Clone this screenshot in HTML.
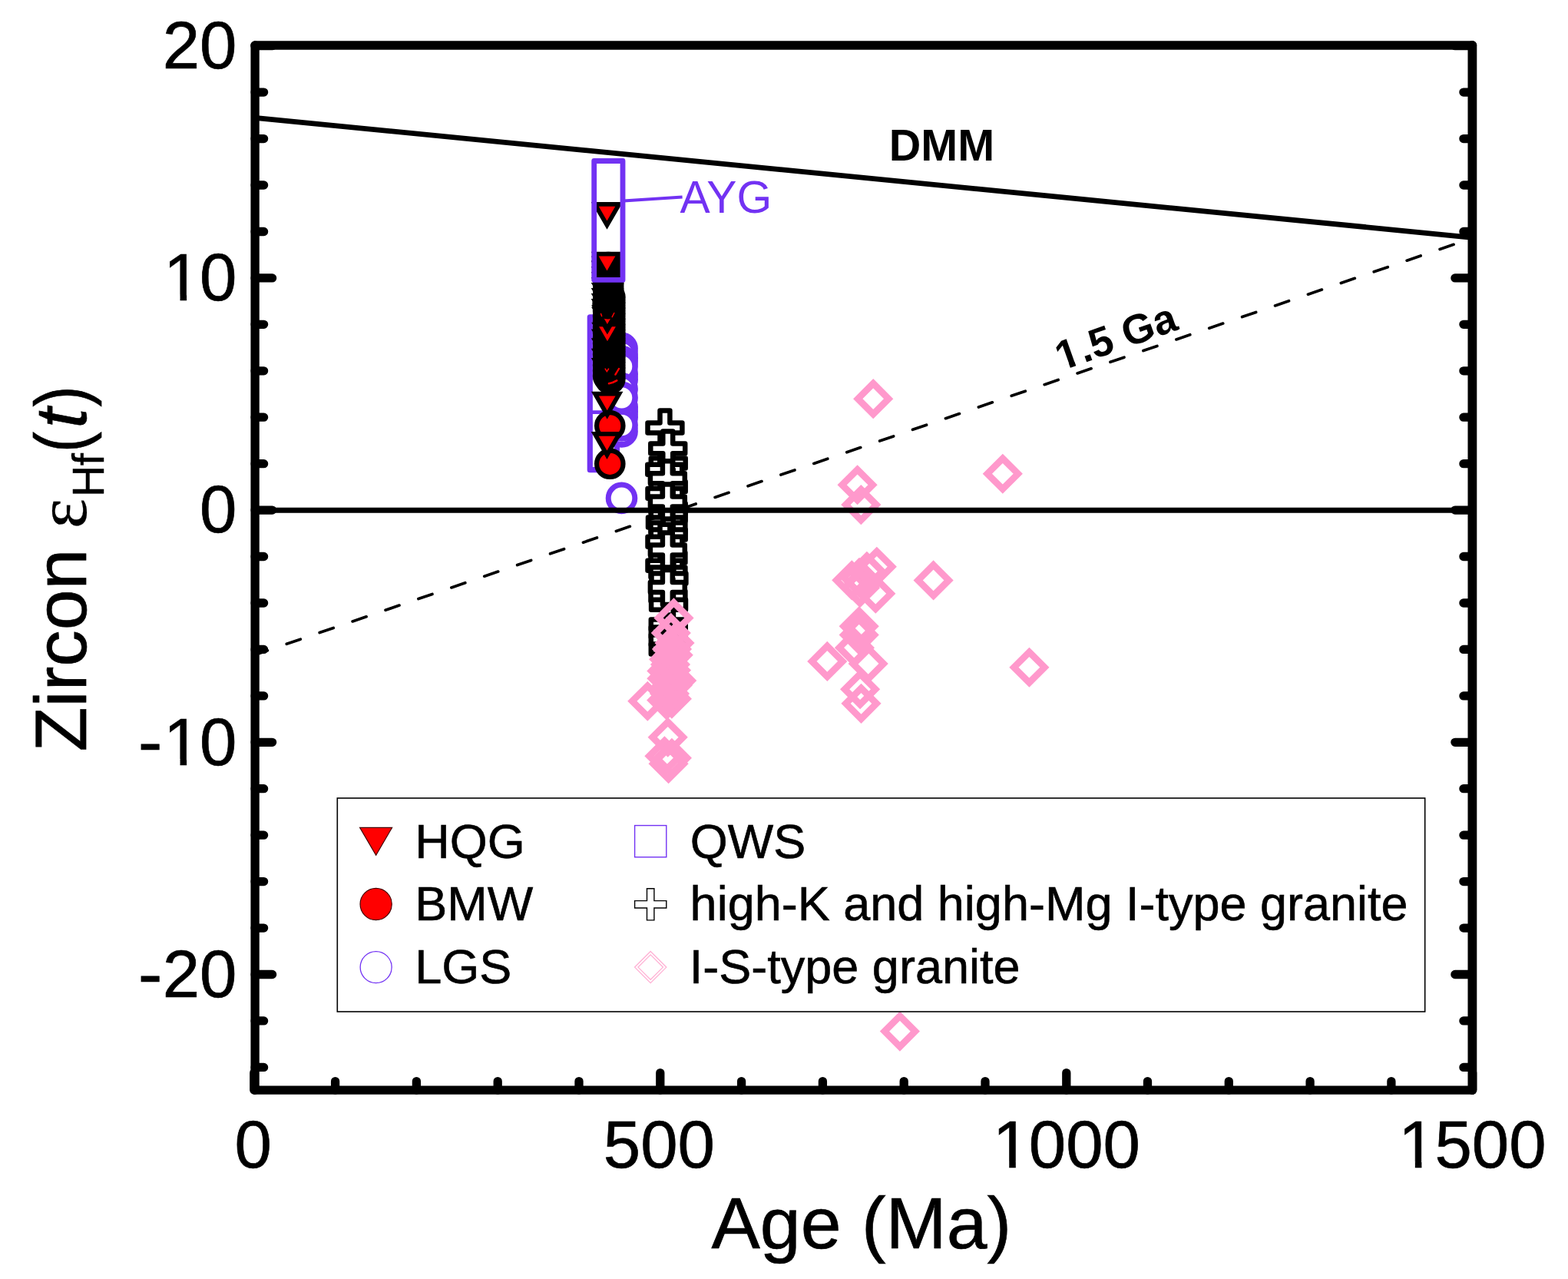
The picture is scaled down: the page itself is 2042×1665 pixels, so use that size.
<!DOCTYPE html>
<html lang="en">
<head>
<meta charset="utf-8">
<title>Zircon eHf(t) vs Age (Ma)</title>
<style>
html,body{margin:0;padding:0;background:#fff;}
body{width:2042px;height:1665px;overflow:hidden;}
svg{display:block;}
text{font-family:"Liberation Sans",Arial,Helvetica,sans-serif;fill:#000;}
.sym{font-family:"DejaVu Sans","Liberation Sans",sans-serif;}
</style>
</head>
<body>
<svg width="2042" height="1665" viewBox="0 0 2042 1665">
<defs><clipPath id="c1"><path d="M209.03 304.20H265.41V383.81H243.09V394.20H234.56V383.81H209.03Z"/></clipPath><clipPath id="c2"><path d="M209.03 908.60H265.41V988.20H243.09V998.60H234.56V988.20H209.03Z"/></clipPath><clipPath id="c3"><path d="M1288.73 1433.00H1345.11V1512.61H1322.79V1523.00H1314.26V1512.61H1288.73Z"/></clipPath><clipPath id="c4"><path d="M1817.33 1433.00H1873.71V1512.61H1851.39V1523.00H1842.86V1512.61H1817.33Z"/></clipPath><clipPath id="c5"><path d="M-86.25 -54.00H-48.22V-6.05H-62.06V3.00H-69.89V-6.05H-86.25Z"/></clipPath></defs>
<rect x="0" y="0" width="2042" height="1665" fill="#ffffff"/>
<g id="qws" fill="none" stroke="#7232f3" stroke-linejoin="round">
<rect x="768.3" y="412.8" width="35.2" height="198.9" stroke-width="7.2"/>
<path d="M768.3 536.6h35" stroke-width="4.8"/>
</g>
<g id="lgs" fill="#fff" stroke="#7232f3">
<circle cx="809.5" cy="648.4" r="17.3" stroke-width="7.0"/>
<circle cx="809.7" cy="487" r="17.5" stroke-width="7.6"/>
<circle cx="809.7" cy="494" r="17.5" stroke-width="7.6"/>
<circle cx="809.7" cy="530" r="17.5" stroke-width="7.6"/>
<circle cx="809.7" cy="536" r="17.5" stroke-width="7.6"/>
<circle cx="809.7" cy="543" r="17.5" stroke-width="7.6"/>
<circle cx="809.7" cy="466" r="17.5" stroke-width="7.6"/>
<circle cx="809.6" cy="561.4" r="17.5" stroke-width="7.6"/>
<circle cx="809.6" cy="553.5" r="17.5" stroke-width="7.6"/>
<circle cx="809.6" cy="453.8" r="17.5" stroke-width="7.6"/>
<circle cx="809.6" cy="460.5" r="17.5" stroke-width="7.6"/>
<circle cx="809.6" cy="471.0" r="17.5" stroke-width="7.6"/>
<circle cx="809.6" cy="477" r="17.5" stroke-width="7.6"/>
<circle cx="809.6" cy="506.2" r="17.5" stroke-width="7.6"/>
<circle cx="809.6" cy="517.85" r="17.5" stroke-width="7.6"/>
</g>
<g id="bmw-hqg" fill="#f00" stroke="#000">
<g fill="#000">
<circle cx="792.3" cy="348.0" r="17.2" stroke-width="6.2"/>
<circle cx="792.3" cy="355.0" r="17.2" stroke-width="6.2"/>
<circle cx="792.3" cy="362.0" r="17.2" stroke-width="6.2"/>
<circle cx="792.3" cy="369.0" r="17.2" stroke-width="6.2"/>
<circle cx="792.3" cy="376.0" r="17.2" stroke-width="6.2"/>
<circle cx="792.3" cy="383.0" r="17.2" stroke-width="6.2"/>
<path d="M774.7 342.9h31.6L790.5 370.2Z" stroke-width="5.7"/>
<path d="M774.7 349.9h31.6L790.5 377.2Z" stroke-width="5.7"/>
<path d="M774.7 356.9h31.6L790.5 384.2Z" stroke-width="5.7"/>
<path d="M774.7 363.9h31.6L790.5 391.2Z" stroke-width="5.7"/>
<path d="M774.7 370.9h31.6L790.5 398.2Z" stroke-width="5.7"/>
<path d="M774.7 377.9h31.6L790.5 405.2Z" stroke-width="5.7"/>
<path d="M774.7 384.9h31.6L790.5 412.2Z" stroke-width="5.7"/>
<path d="M774.7 391.9h31.6L790.5 419.2Z" stroke-width="5.7"/>
<circle cx="794.4" cy="387.0" r="17.2" stroke-width="6.2"/>
<circle cx="792.1" cy="390.5" r="17.2" stroke-width="6.2"/>
<circle cx="794.4" cy="394.1" r="17.2" stroke-width="6.2"/>
<circle cx="792.1" cy="397.6" r="17.2" stroke-width="6.2"/>
<circle cx="794.4" cy="401.1" r="17.2" stroke-width="6.2"/>
<circle cx="792.1" cy="404.7" r="17.2" stroke-width="6.2"/>
<circle cx="794.4" cy="408.2" r="17.2" stroke-width="6.2"/>
<circle cx="792.1" cy="411.7" r="17.2" stroke-width="6.2"/>
<circle cx="794.4" cy="415.3" r="17.2" stroke-width="6.2"/>
<circle cx="792.1" cy="418.8" r="17.2" stroke-width="6.2"/>
<circle cx="794.4" cy="422.4" r="17.2" stroke-width="6.2"/>
<circle cx="792.1" cy="425.9" r="17.2" stroke-width="6.2"/>
<circle cx="794.4" cy="429.4" r="17.2" stroke-width="6.2"/>
<circle cx="792.1" cy="433.0" r="17.2" stroke-width="6.2"/>
<circle cx="794.4" cy="436.5" r="17.2" stroke-width="6.2"/>
<circle cx="792.1" cy="440.0" r="17.2" stroke-width="6.2"/>
<circle cx="794.4" cy="443.6" r="17.2" stroke-width="6.2"/>
<circle cx="792.1" cy="447.1" r="17.2" stroke-width="6.2"/>
<circle cx="794.4" cy="450.6" r="17.2" stroke-width="6.2"/>
<circle cx="792.1" cy="454.2" r="17.2" stroke-width="6.2"/>
<circle cx="794.4" cy="457.7" r="17.2" stroke-width="6.2"/>
<circle cx="792.1" cy="461.2" r="17.2" stroke-width="6.2"/>
<circle cx="794.4" cy="464.8" r="17.2" stroke-width="6.2"/>
<circle cx="792.1" cy="468.3" r="17.2" stroke-width="6.2"/>
<circle cx="794.4" cy="471.8" r="17.2" stroke-width="6.2"/>
<circle cx="792.1" cy="475.4" r="17.2" stroke-width="6.2"/>
<circle cx="794.4" cy="478.9" r="17.2" stroke-width="6.2"/>
<circle cx="792.1" cy="482.4" r="17.2" stroke-width="6.2"/>
<circle cx="794.4" cy="486.0" r="17.2" stroke-width="6.2"/>
<circle cx="792.1" cy="489.5" r="17.2" stroke-width="6.2"/>
<circle cx="794.4" cy="493.1" r="17.2" stroke-width="6.2"/>
<path d="M774.8 431.4h31.6L790.6 458.8Z" stroke-width="5.7"/>
<path d="M774.8 443.2h31.6L790.6 470.6Z" stroke-width="5.7"/>
<path d="M774.8 456.7h31.6L790.6 484.1Z" stroke-width="5.7"/>
<path d="M774.8 468.9h31.6L790.6 496.2Z" stroke-width="5.7"/>
</g>
<circle cx="794.3" cy="554.3" r="17.2" stroke-width="6.2"/>
<circle cx="794.3" cy="603.8" r="17.2" stroke-width="6.2"/>
<path d="M774.7 564.9h31.6L790.5 592.2Z" stroke-width="5.7"/>
<path d="M774.9 512.6h31.6L790.7 540.0Z" stroke-width="5.7"/>
<path d="M775.2 422.5h31.6L791.0 449.9Z" stroke-width="5.7"/>
<path d="M775.1 402.5h31.6L790.9 429.9Z" stroke-width="5.7" fill="#000"/>
<path d="M775.1 400.2h31.6L790.9 427.6Z" stroke-width="5.7"/>
<circle cx="791.6" cy="395.2" r="17.2" stroke-width="6.2" fill="#000"/>
<g fill="none" stroke="#f00" stroke-linecap="round">
<path d="M788.2 480.2L790.3 483.6L792.5 480.2" stroke-width="1.6"/>
<path d="M801.4 487.6L806.0 480.0" stroke-width="2.4"/>
<path d="M793.0 499.3Q798.5 498.3 803.2 495.4" stroke-width="2.6"/>
<path d="M782.6 408.5L783.6 411.5M799.8 407.5L797.2 412.6" stroke-width="1.5"/>
</g>
<path d="M774.7 341.9h31.6L790.5 369.2Z" stroke-width="5.7" fill="#000"/>
<path d="M774.7 336.4h31.6L790.5 363.8Z" stroke-width="5.7" fill="#000"/>
<path d="M774.7 330.7h31.6L790.5 358.1Z" stroke-width="5.7"/>
<path d="M774.7 265.8h31.6L790.5 293.1Z" stroke-width="5.7"/>
</g>
<rect x="773.7" y="209.5" width="37.3" height="154.9" fill="none" stroke="#7232f3" stroke-width="6.8" stroke-linejoin="round"/>
<g id="crosses" fill="#fff" stroke="#000" stroke-width="6.5" stroke-linejoin="round">
<path d="M859.5 534.5h12.9v16.0h16.0v12.9h-16.0v16.0h-12.9v-16.0h-16.0v-12.9h16.0Z"/>
<path d="M863.8 580.5h12.9v16.0h16.0v12.9h-16.0v16.0h-12.9v-16.0h-16.0v-12.9h16.0Z"/>
<path d="M859.3 588.8h12.9v16.0h16.0v12.9h-16.0v16.0h-12.9v-16.0h-16.0v-12.9h16.0Z"/>
<path d="M863.8 611.0h12.9v16.0h16.0v12.9h-16.0v16.0h-12.9v-16.0h-16.0v-12.9h16.0Z"/>
<path d="M859.5 619.9h12.9v16.0h16.0v12.9h-16.0v16.0h-12.9v-16.0h-16.0v-12.9h16.0Z"/>
<path d="M863.8 639.5h12.9v16.0h16.0v12.9h-16.0v16.0h-12.9v-16.0h-16.0v-12.9h16.0Z"/>
<path d="M863.8 649.0h12.9v16.0h16.0v12.9h-16.0v16.0h-12.9v-16.0h-16.0v-12.9h16.0Z"/>
<path d="M860.0 657.5h12.9v16.0h16.0v12.9h-16.0v16.0h-12.9v-16.0h-16.0v-12.9h16.0Z"/>
<path d="M863.5 664.5h12.9v16.0h16.0v12.9h-16.0v16.0h-12.9v-16.0h-16.0v-12.9h16.0Z"/>
<path d="M863.8 673.5h12.9v16.0h16.0v12.9h-16.0v16.0h-12.9v-16.0h-16.0v-12.9h16.0Z"/>
<path d="M859.5 682.8h12.9v16.0h16.0v12.9h-16.0v16.0h-12.9v-16.0h-16.0v-12.9h16.0Z"/>
<path d="M863.5 703.5h12.9v16.0h16.0v12.9h-16.0v16.0h-12.9v-16.0h-16.0v-12.9h16.0Z"/>
<path d="M859.5 713.8h12.9v16.0h16.0v12.9h-16.0v16.0h-12.9v-16.0h-16.0v-12.9h16.0Z"/>
<path d="M863.5 722.5h12.9v16.0h16.0v12.9h-16.0v16.0h-12.9v-16.0h-16.0v-12.9h16.0Z"/>
<path d="M864.5 730.6h12.9v16.0h16.0v12.9h-16.0v16.0h-12.9v-16.0h-16.0v-12.9h16.0Z"/>
<path d="M863.5 753.5h12.9v16.0h16.0v12.9h-16.0v16.0h-12.9v-16.0h-16.0v-12.9h16.0Z"/>
<path d="M864.1 764.8h12.9v16.0h16.0v12.9h-16.0v16.0h-12.9v-16.0h-16.0v-12.9h16.0Z"/>
<path d="M863.8 790.5h12.9v16.0h16.0v12.9h-16.0v16.0h-12.9v-16.0h-16.0v-12.9h16.0Z"/>
<path d="M863.8 800.5h12.9v16.0h16.0v12.9h-16.0v16.0h-12.9v-16.0h-16.0v-12.9h16.0Z"/>
<path d="M863.8 810.5h12.9v16.0h16.0v12.9h-16.0v16.0h-12.9v-16.0h-16.0v-12.9h16.0Z"/>
<path d="M863.8 822.5h12.9v16.0h16.0v12.9h-16.0v16.0h-12.9v-16.0h-16.0v-12.9h16.0Z"/>
<path d="M863.3 561.4h12.9v16.0h16.0v12.9h-16.0v16.0h-12.9v-16.0h-16.0v-12.9h16.0Z"/>
<path d="M862.9 600.3h12.9v16.0h16.0v12.9h-16.0v16.0h-12.9v-16.0h-16.0v-12.9h16.0Z"/>
<path d="M862.9 630.5h12.9v16.0h16.0v12.9h-16.0v16.0h-12.9v-16.0h-16.0v-12.9h16.0Z"/>
<path d="M862.9 693.6h12.9v16.0h16.0v12.9h-16.0v16.0h-12.9v-16.0h-16.0v-12.9h16.0Z"/>
<path d="M862.9 742.0h12.9v16.0h16.0v12.9h-16.0v16.0h-12.9v-16.0h-16.0v-12.9h16.0Z"/>
</g>
<g id="diamonds" fill="none" stroke="#ff99cc" stroke-width="8.7" stroke-linejoin="miter">
<path d="M1137.2 499.2l19.95 19.95l-19.95 19.95l-19.95 -19.95Z"/>
<path d="M1171.9 1322.6l19.95 19.95l-19.95 19.95l-19.95 -19.95Z"/>
<path d="M1305.8 596.8l19.95 19.95l-19.95 19.95l-19.95 -19.95Z"/>
<path d="M1215.6 735.5l19.95 19.95l-19.95 19.95l-19.95 -19.95Z"/>
<path d="M1340.4 848.8l19.95 19.95l-19.95 19.95l-19.95 -19.95Z"/>
<path d="M1116.6 611.3l19.95 19.95l-19.95 19.95l-19.95 -19.95Z"/>
<path d="M1121.3 637.1l19.95 19.95l-19.95 19.95l-19.95 -19.95Z"/>
<path d="M1141.8 717.8l19.95 19.95l-19.95 19.95l-19.95 -19.95Z"/>
<path d="M1128.9 723.9l19.95 19.95l-19.95 19.95l-19.95 -19.95Z"/>
<path d="M1109.3 735.4l19.95 19.95l-19.95 19.95l-19.95 -19.95Z"/>
<path d="M1140.3 752.8l19.95 19.95l-19.95 19.95l-19.95 -19.95Z"/>
<path d="M1120.0 745.3l19.95 19.95l-19.95 19.95l-19.95 -19.95Z"/>
<path d="M1119.0 732.0l19.95 19.95l-19.95 19.95l-19.95 -19.95Z"/>
<path d="M1125.0 738.0l19.95 19.95l-19.95 19.95l-19.95 -19.95Z"/>
<path d="M1118.7 795.3l19.95 19.95l-19.95 19.95l-19.95 -19.95Z"/>
<path d="M1118.7 806.6l19.95 19.95l-19.95 19.95l-19.95 -19.95Z"/>
<path d="M1112.9 823.2l19.95 19.95l-19.95 19.95l-19.95 -19.95Z"/>
<path d="M1077.3 841.0l19.95 19.95l-19.95 19.95l-19.95 -19.95Z"/>
<path d="M1130.7 844.0l19.95 19.95l-19.95 19.95l-19.95 -19.95Z"/>
<path d="M1120.1 877.3l19.95 19.95l-19.95 19.95l-19.95 -19.95Z"/>
<path d="M1121.5 895.9l19.95 19.95l-19.95 19.95l-19.95 -19.95Z"/>
<path d="M877.5 784.5l19.95 19.95l-19.95 19.95l-19.95 -19.95Z"/>
<path d="M873.8 804.0l19.95 19.95l-19.95 19.95l-19.95 -19.95Z"/>
<path d="M878.5 817.0l19.95 19.95l-19.95 19.95l-19.95 -19.95Z"/>
<path d="M876.7 832.8l19.95 19.95l-19.95 19.95l-19.95 -19.95Z"/>
<path d="M871.1 838.2l19.95 19.95l-19.95 19.95l-19.95 -19.95Z"/>
<path d="M868.4 853.5l19.95 19.95l-19.95 19.95l-19.95 -19.95Z"/>
<path d="M874.0 852.6l19.95 19.95l-19.95 19.95l-19.95 -19.95Z"/>
<path d="M868.4 863.4l19.95 19.95l-19.95 19.95l-19.95 -19.95Z"/>
<path d="M881.2 866.1l19.95 19.95l-19.95 19.95l-19.95 -19.95Z"/>
<path d="M843.3 892.8l19.95 19.95l-19.95 19.95l-19.95 -19.95Z"/>
<path d="M874.9 889.8l19.95 19.95l-19.95 19.95l-19.95 -19.95Z"/>
<path d="M868.2 891.6l19.95 19.95l-19.95 19.95l-19.95 -19.95Z"/>
<path d="M870.0 877.0l19.95 19.95l-19.95 19.95l-19.95 -19.95Z"/>
<path d="M872.0 883.0l19.95 19.95l-19.95 19.95l-19.95 -19.95Z"/>
<path d="M875.0 825.0l19.95 19.95l-19.95 19.95l-19.95 -19.95Z"/>
<path d="M873.0 845.0l19.95 19.95l-19.95 19.95l-19.95 -19.95Z"/>
<path d="M872.0 860.0l19.95 19.95l-19.95 19.95l-19.95 -19.95Z"/>
<path d="M876.0 872.0l19.95 19.95l-19.95 19.95l-19.95 -19.95Z"/>
<path d="M869.7 939.8l19.95 19.95l-19.95 19.95l-19.95 -19.95Z"/>
<path d="M865.4 964.3l19.95 19.95l-19.95 19.95l-19.95 -19.95Z"/>
<path d="M874.9 966.8l19.95 19.95l-19.95 19.95l-19.95 -19.95Z"/>
<path d="M870.6 974.2l19.95 19.95l-19.95 19.95l-19.95 -19.95Z"/>
</g>
<g id="lines" fill="none" stroke="#000">
<line x1="332.1" y1="153.4" x2="1917.4" y2="309.3" stroke-width="6.8"/>
<line x1="332.1" y1="664.3" x2="1917.4" y2="664.3" stroke-width="7"/>
<line x1="332.1" y1="852.4" x2="1917.4" y2="310.0" stroke-width="3.7" stroke-linecap="round" stroke-dasharray="19 26.35" stroke-dashoffset="1.8"/>
</g>
<g id="axes" fill="none" stroke="#000" stroke-width="11.3" stroke-linecap="round" stroke-linejoin="round">
<path d="M332.1 59.0H1917.4" stroke-width="11.6"/>
<path d="M1917.4 59.0V1419.1" stroke-width="11.8"/>
<path d="M332.1 1419.1H1917.4" stroke-width="11.2"/>
<path d="M332.1 59.0V1419.1" stroke-width="11.3"/>
<path d="M330.8 1419.1v-22.5 M436.6 1419.1v-11.5 M542.4 1419.1v-11.5 M648.2 1419.1v-11.5 M754.0 1419.1v-11.5 M859.8 1419.1v-22.5 M965.6 1419.1v-11.5 M1071.4 1419.1v-11.5 M1177.2 1419.1v-11.5 M1283.0 1419.1v-11.5 M1388.8 1419.1v-22.5 M1494.5 1419.1v-11.5 M1600.3 1419.1v-11.5 M1706.1 1419.1v-11.5 M1811.9 1419.1v-11.5 M1917.7 1419.1v-22.5 M332.1 1389.4h11.5 M1917.4 1389.4h-11.5 M332.1 1328.9h11.5 M1917.4 1328.9h-11.5 M332.1 1268.5h22.5 M1917.4 1268.5h-22.5 M332.1 1208.1h11.5 M1917.4 1208.1h-11.5 M332.1 1147.6h11.5 M1917.4 1147.6h-11.5 M332.1 1087.2h11.5 M1917.4 1087.2h-11.5 M332.1 1026.7h11.5 M1917.4 1026.7h-11.5 M332.1 966.3h22.5 M1917.4 966.3h-22.5 M332.1 905.9h11.5 M1917.4 905.9h-11.5 M332.1 845.4h11.5 M1917.4 845.4h-11.5 M332.1 785.0h11.5 M1917.4 785.0h-11.5 M332.1 724.5h11.5 M1917.4 724.5h-11.5 M332.1 664.1h22.5 M1917.4 664.1h-22.5 M332.1 603.7h11.5 M1917.4 603.7h-11.5 M332.1 543.2h11.5 M1917.4 543.2h-11.5 M332.1 482.8h11.5 M1917.4 482.8h-11.5 M332.1 422.3h11.5 M1917.4 422.3h-11.5 M332.1 361.9h22.5 M1917.4 361.9h-22.5 M332.1 301.5h11.5 M1917.4 301.5h-11.5 M332.1 241.0h11.5 M1917.4 241.0h-11.5 M332.1 180.6h11.5 M1917.4 180.6h-11.5 M332.1 120.1h11.5 M1917.4 120.1h-11.5 M332.1 59.7h22.5 M1917.4 59.7h-22.5"/>
</g>
<g id="ticklabels" font-size="87" stroke="#000" stroke-width="0.7">
<text x="211.73" y="89.00">20</text>
<text x="213.03" y="391.20" clip-path="url(#c1)">1</text><text x="260.11" y="391.20">0</text>
<text x="260.11" y="693.40">0</text>
<text transform="translate(179.76 996.90) scale(1.095 1.04)">-</text><text x="213.03" y="995.60" clip-path="url(#c2)">1</text><text x="260.11" y="995.60">0</text>
<text transform="translate(179.76 1299.10) scale(1.095 1.04)">-</text><text x="211.73" y="1297.80">20</text>
<text x="305.51" y="1520.00">0</text>
<text x="785.82" y="1520.00">500</text>
<text x="1292.73" y="1520.00" clip-path="url(#c3)">1</text><text x="1339.81" y="1520.00">000</text>
<text x="1821.33" y="1520.00" clip-path="url(#c4)">1</text><text x="1868.41" y="1520.00">500</text>
</g>
<text id="xlabel" x="1121.8" y="1625" font-size="95" text-anchor="middle" stroke="#000" stroke-width="0.7">Age (Ma)</text>
<g id="ylabel" transform="translate(111.6 978.5) rotate(-90)" font-size="95" stroke="#000" stroke-width="0.7">
<text x="0" y="0">Zircon</text>
<text x="290.5" y="0.8" font-size="93" style="font-family:'Liberation Serif','DejaVu Serif',serif" stroke-width="0.3">ε</text>
<text x="331.4" y="23.5" font-size="57" stroke-width="0.5">Hf</text>
<text transform="translate(389.6 0) scale(0.85 1)">(</text>
<text x="421" y="0" font-style="italic">t</text>
<text transform="translate(449.1 0) scale(0.85 1)">)</text>
</g>
<text x="1226.5" y="208.6" font-size="57.5" font-weight="bold" text-anchor="middle">DMM</text>
<g transform="translate(1459.8 455.5) rotate(-19.5)" font-size="54" font-weight="bold"><text x="-82.25" y="0.00" clip-path="url(#c5)">1</text><text x="-51.02" y="0.00">.5 Ga</text></g>
<line x1="812" y1="261.6" x2="888.6" y2="256.4" stroke="#7232f3" stroke-width="4"/>
<text x="885.4" y="277" font-size="58.8" style="fill:#7232f3">AYG</text>
<g id="legend">
<rect x="439.3" y="1039" width="1416.4" height="278" fill="#fff" stroke="#000" stroke-width="1.6"/>
<path d="M468.6 1077.3H510.6L489.65 1113.3Z" fill="#ff0000" stroke="#400" stroke-width="1.2"/>
<circle cx="489.65" cy="1177.0" r="20.6" fill="#ff0000" stroke="#400" stroke-width="1.2"/>
<circle cx="489.65" cy="1259.1" r="20.5" fill="#fff" stroke="#7232f3" stroke-width="1.3"/>
<rect x="826.6" y="1074.6" width="41.2" height="41.2" fill="#fff" stroke="#7232f3" stroke-width="1.4"/>
<path d="M842.5 1156.7H851.9000000000001V1172.6H867.8000000000001V1182.0H851.9000000000001V1197.8999999999999H842.5V1182.0H826.6V1172.6H842.5Z" fill="#fff" stroke="#000" stroke-width="1.4"/>
<path d="M847.2 1238.5L867.8000000000001 1259.1L847.2 1279.6999999999998L826.6 1259.1Z" fill="none" stroke="#ffb0d4" stroke-width="1.3"/>
<path d="M847.2 1242.8999999999999L863.4000000000001 1259.1L847.2 1275.3L831.0 1259.1Z" fill="none" stroke="#ffb0d4" stroke-width="1.3"/>
<g font-size="63" stroke="#000" stroke-width="0.6">
<text x="540.3" y="1116.7">HQG</text>
<text x="540.3" y="1198">BMW</text>
<text x="540.3" y="1280">LGS</text>
<text x="898.8" y="1116.7">QWS</text>
<text x="898.6" y="1198">high-K and high-Mg I-type granite</text>
<text x="897.8" y="1280">I-S-type granite</text>
</g></g>
</svg>
</body>
</html>
